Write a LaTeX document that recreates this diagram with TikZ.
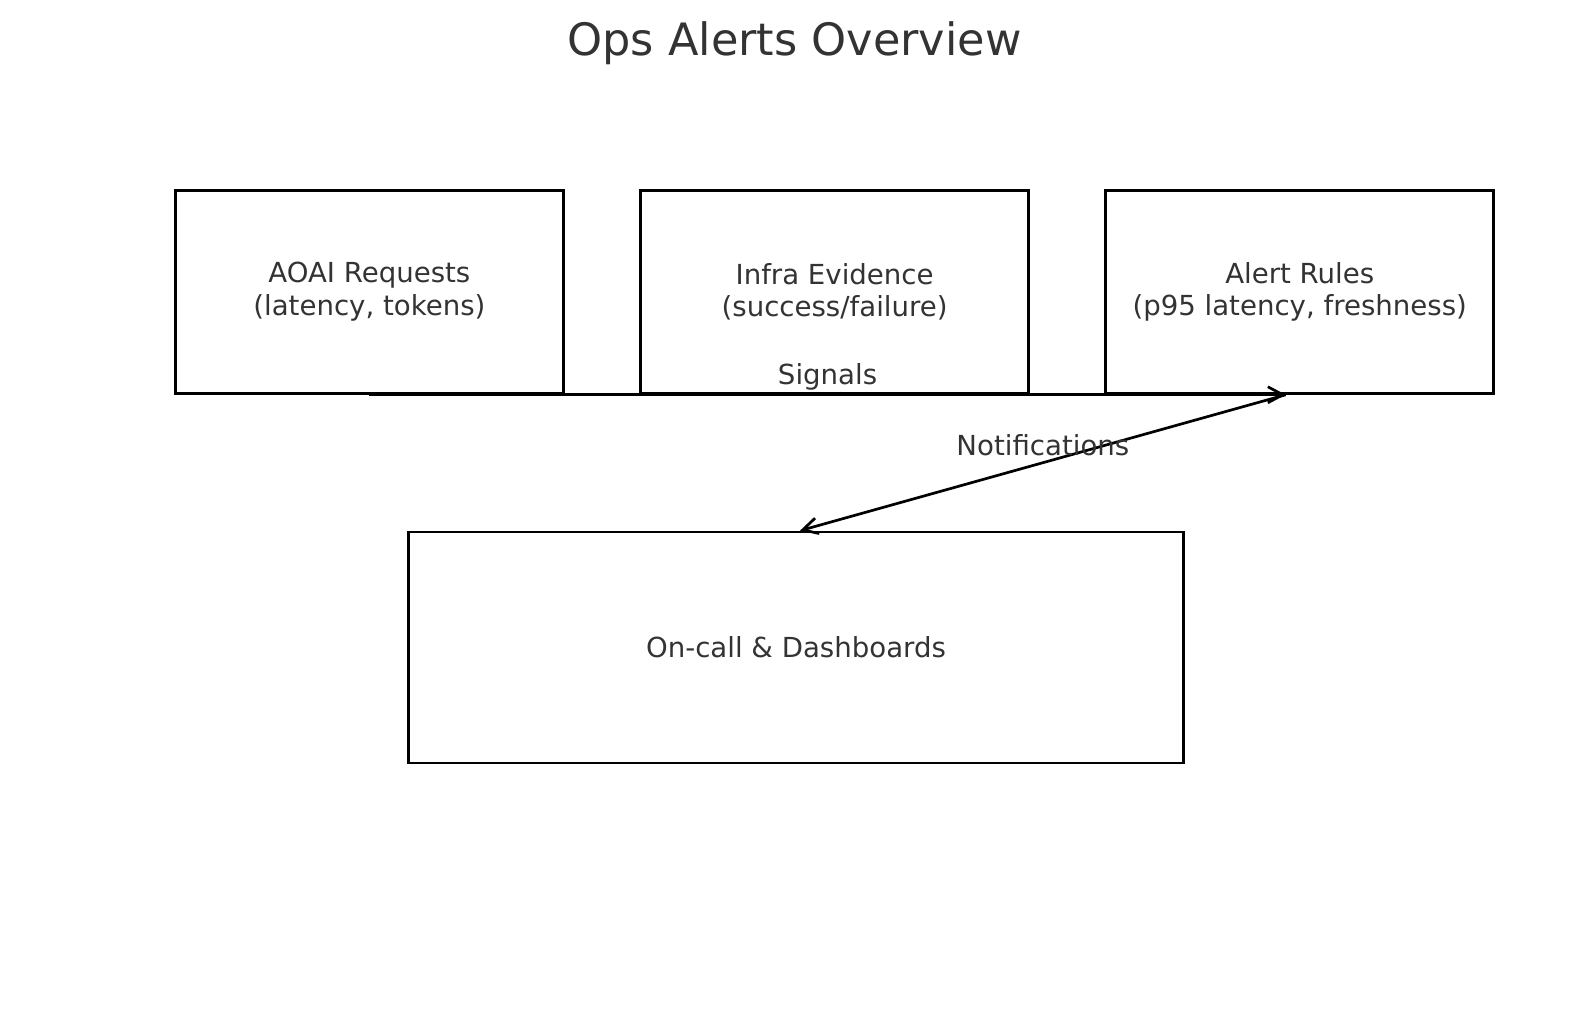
\documentclass[tikz,border=0pt]{standalone}
\usepackage{fontspec}
\setmainfont{DejaVu Sans}
\usepackage{xcolor}
\usetikzlibrary{arrows.meta,positioning}
\definecolor{opsink}{HTML}{333333}

\tikzset{
  opsbox/.style={draw=black, line width=1.35pt, rectangle, inner sep=0pt,
    minimum width=194pt, minimum height=101.5pt, align=center,
    text=opsink, font=\fontsize{13.8}{16.3}\selectfont},
  opsarrow/.style={draw=black, line width=1.35pt, -{Straight Barb[length=7.5pt,width=8pt]}},
  opslabel/.style={text=opsink, font=\fontsize{13.8}{16.3}\selectfont}
}

\begin{document}
\begin{tikzpicture}[x=0.5pt,y=-0.5pt]
  \useasboundingbox (0,0) rectangle (1589,1014);
  \node[text=opsink, font=\fontsize{22.3}{26}\selectfont] (title) at (794.5,43.5) {Ops Alerts Overview};

  % top row
  \node[opsbox] (aoai) at (369.4,291.9) {AOAI Requests\\(latency, tokens)};
  \node[opsbox] (infra) at (834.6,291.9) {Infra Evidence\\(success/failure)};
  \node[opsbox] (rules) at (1299.7,291.9) {Alert Rules\\(p95 latency, freshness)};

  % bottom
  \node[opsbox, minimum width=387.6pt, minimum height=115.5pt] (oncall) at (796,647.5) {On-call \& Dashboards};

  \coordinate (sigend) at ([xshift=-7pt]rules.south);
  \draw[opsarrow] (aoai.south) -- (sigend)
    node[opslabel, midway, yshift=9pt] (siglbl) {Signals};
  \draw[opsarrow] (sigend) -- ([xshift=2pt]oncall.north)
    node[opslabel, midway, yshift=9pt] (notiflbl) {Notifications};
\end{tikzpicture}
\end{document}
